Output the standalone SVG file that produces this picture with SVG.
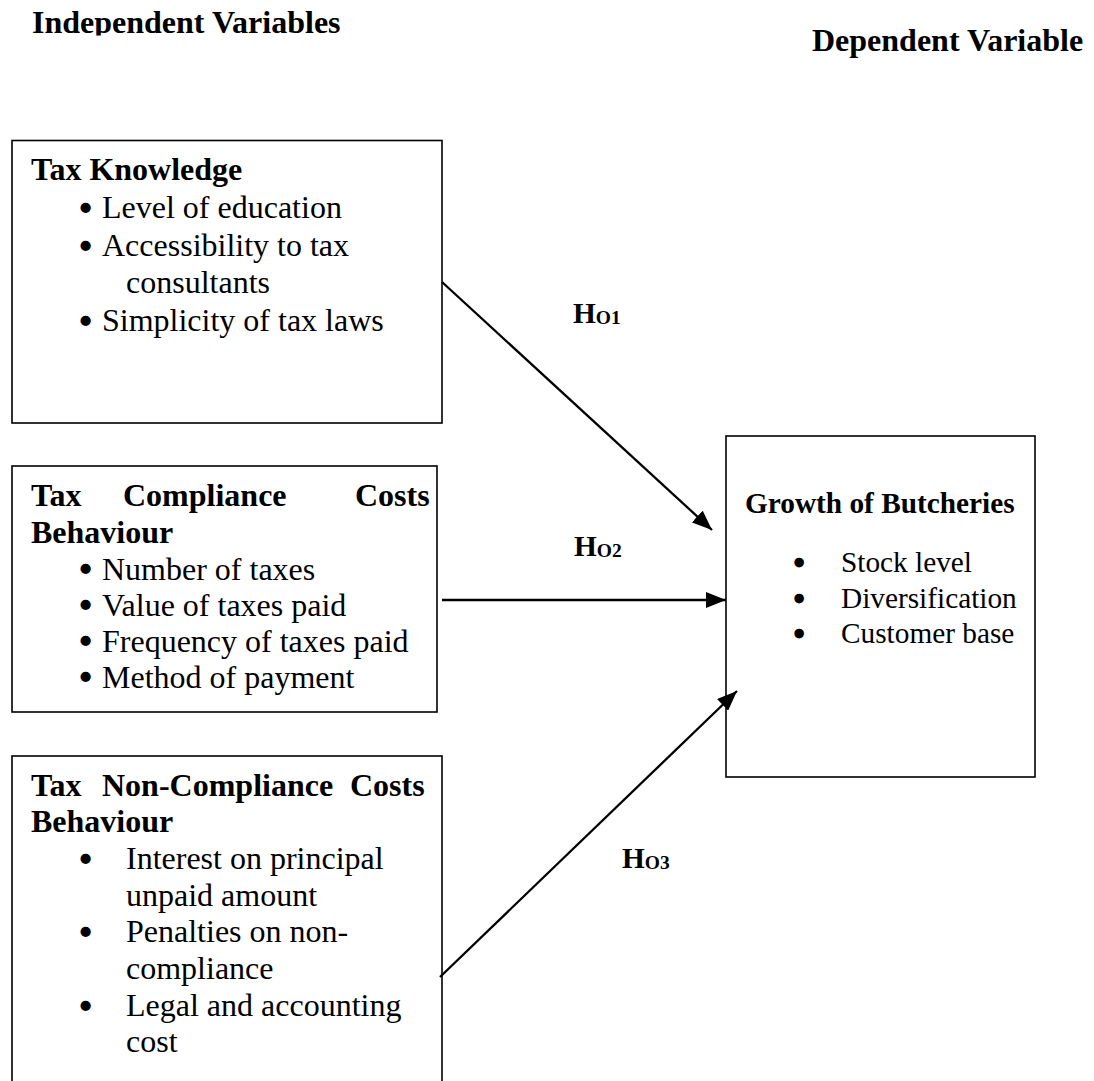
<svg xmlns="http://www.w3.org/2000/svg" width="1094" height="1081" viewBox="0 0 1094 1081">
<style>
text{font-family:"Liberation Serif","Times New Roman",serif;fill:#000}
.h{font-size:32px;font-weight:bold}
.b{font-size:32px}
.bul{stroke:#000;stroke-width:2.6}
.bh{font-size:29.3px;font-weight:bold}
.bs{font-size:29.3px}
.lab{font-size:29.3px;font-weight:bold}
.sub{font-size:19.5px}
.box{fill:#fff;stroke:#000;stroke-width:1.6}
.con{stroke:#000;stroke-width:2.3;fill:none;marker-end:url(#ah)}
</style>
<defs>
<marker id="ah" markerUnits="userSpaceOnUse" markerWidth="22" markerHeight="16" refX="20" refY="8" orient="auto">
<path d="M0,0 L20,8 L0,16 Z" fill="#000"/>
</marker>
<clipPath id="clipTop"><rect x="0" y="0" width="600" height="35.5"/></clipPath>
</defs>
<rect width="1094" height="1081" fill="#fff"/>
<g id="titles">
<text class="h" x="32" y="33" clip-path="url(#clipTop)">Independent Variables</text>
<text class="h" x="812" y="51">Dependent Variable</text>
</g>
<g id="node-tax-knowledge">
<rect class="box" x="12" y="140.5" width="430" height="282.5"/>
<text class="h" x="31" y="180">Tax Knowledge</text>
<text class="b bul" x="80" y="219">•</text><text class="b" x="102" y="218">Level of education</text>
<text class="b bul" x="80" y="257">•</text><text class="b" x="102" y="256">Accessibility to tax</text>
<text class="b" x="126" y="293">consultants</text>
<text class="b bul" x="80" y="332">•</text><text class="b" x="102" y="331">Simplicity of tax laws</text>
</g>
<g id="node-compliance">
<rect class="box" x="12" y="466" width="425" height="246"/>
<text class="h" y="506"><tspan x="31">Tax</tspan><tspan x="123">Compliance</tspan><tspan x="355">Costs</tspan></text>
<text class="h" x="31" y="543">Behaviour</text>
<text class="b bul" x="80" y="580">•</text><text class="b" x="102" y="580">Number of taxes</text>
<text class="b bul" x="80" y="616">•</text><text class="b" x="102" y="616">Value of taxes paid</text>
<text class="b bul" x="80" y="652">•</text><text class="b" x="102" y="652">Frequency of taxes paid</text>
<text class="b bul" x="80" y="688">•</text><text class="b" x="102" y="688">Method of payment</text>
</g>
<g id="node-noncompliance">
<rect class="box" x="12" y="756" width="430" height="360"/>
<text class="h" y="796"><tspan x="31">Tax</tspan><tspan x="102">Non-Compliance</tspan><tspan x="350">Costs</tspan></text>
<text class="h" x="31" y="832">Behaviour</text>
<text class="b bul" x="80" y="870">•</text><text class="b" x="126" y="869">Interest on principal</text>
<text class="b" x="126" y="906">unpaid amount</text>
<text class="b bul" x="80" y="943">•</text><text class="b" x="126" y="942">Penalties on non-</text>
<text class="b" x="126" y="979">compliance</text>
<text class="b bul" x="80" y="1017">•</text><text class="b" x="126" y="1016">Legal and accounting</text>
<text class="b" x="126" y="1052">cost</text>
</g>
<g id="node-growth">
<rect class="box" x="726" y="436" width="309" height="341"/>
<text class="bh" x="745" y="513">Growth of Butcheries</text>
<text class="bs bul" x="794" y="573">•</text><text class="bs" x="841" y="572">Stock level</text>
<text class="bs bul" x="794" y="609">•</text><text class="bs" x="841" y="608">Diversification</text>
<text class="bs bul" x="794" y="644">•</text><text class="bs" x="841" y="643">Customer base</text>
</g>
<g id="connectors">
<line class="con" x1="442" y1="282" x2="712" y2="530"/>
<line class="con" x1="442" y1="600" x2="726" y2="600"/>
<line class="con" x1="440" y1="977" x2="737" y2="691"/>
</g>
<g id="labels">
<text class="lab" x="573" y="323">H<tspan class="sub" dy="1">O1</tspan></text>
<text class="lab" x="574" y="556">H<tspan class="sub" dy="1">O2</tspan></text>
<text class="lab" x="622" y="868">H<tspan class="sub" dy="1">O3</tspan></text>
</g>
</svg>
